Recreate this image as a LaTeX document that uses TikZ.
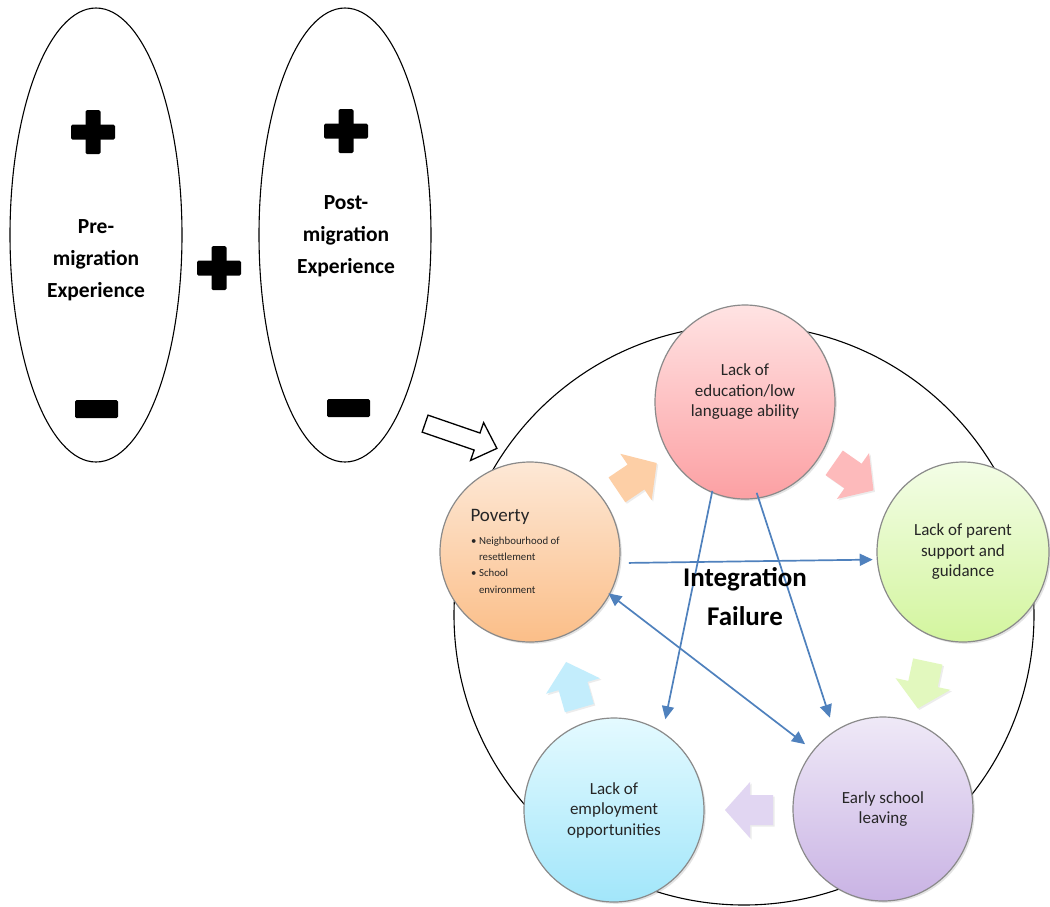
\documentclass[tikz,border=0pt]{standalone}
\usepackage{fontspec}
\setmainfont{Carlito}
\usetikzlibrary{shapes.geometric,arrows.meta,shadows,calc}
\definecolor{lineblue}{HTML}{4F81BD}
\definecolor{ringgray}{HTML}{8A8A8A}
\definecolor{pinkT}{HTML}{FFE3E3}\definecolor{pinkB}{HTML}{FCA0A3}
\definecolor{greenT}{HTML}{F3FDE6}\definecolor{greenB}{HTML}{D3F59E}
\definecolor{orangeT}{HTML}{FDE8D6}\definecolor{orangeB}{HTML}{FBBE88}
\definecolor{cyanT}{HTML}{E4FAFF}\definecolor{cyanB}{HTML}{A2E6FA}
\definecolor{purpleT}{HTML}{EFE9F7}\definecolor{purpleB}{HTML}{C9B3E4}
\definecolor{arrOrange}{HTML}{FDCFA6}
\definecolor{arrPink}{HTML}{FDBABB}
\definecolor{arrGreen}{HTML}{E2F8BE}
\definecolor{arrPurple}{HTML}{E1D6F2}
\definecolor{arrCyan}{HTML}{C3EDFC}
\tikzset{
  bigoval/.style={ellipse, draw=black, line width=1.1pt, inner sep=0pt, minimum width=172pt, minimum height=454pt},
  bigtext/.style={align=center, font=\bfseries\fontsize{21.5}{32}\selectfont},
  bubble/.style={ellipse, draw=ringgray, line width=1.2pt, inner sep=0pt, align=center,
     font=\fontsize{17}{20.5}\selectfont, text=black!85,
     drop shadow={opacity=0.22, shadow xshift=1.8pt, shadow yshift=-1.8pt}},
  bluearrow/.style={draw=lineblue, line width=1.7pt, -{Triangle[length=13pt,width=12pt]}},
  bluedouble/.style={draw=lineblue, line width=1.7pt, {Triangle[length=13pt,width=12pt]}-{Triangle[length=13pt,width=12pt]}},
  cyclearrow/.style={draw=none, drop shadow={opacity=0.15, shadow xshift=1.5pt, shadow yshift=-1.5pt}},
  plussign/.pic={\fill[rounded corners=1.5pt] (-7.5,-22) rectangle (7.5,22);
                 \fill[rounded corners=1.5pt] (-22,-7.5) rectangle (22,7.5);}
}
\newcommand{\cyclepath}{(-23,-15) -- (0,-15) -- (0,-28) -- (25,0) -- (0,28) -- (0,15) -- (-23,15) -- cycle}
\begin{document}
\begin{tikzpicture}[x=1pt,y=-1pt]
\useasboundingbox (0,0) rectangle (1050,906);
\fill[white] (0,0) rectangle (1050,906);

% left part
\node[bigoval] (pre) at (96,235) {};
\node[bigoval] (post) at (345,235) {};
\node[bigtext] (pretext) at (96,260) {Pre-\\migration\\Experience};
\node[bigtext] (posttext) at (346,236) {Post-\\migration\\Experience};
\pic at (93,132) {plussign};
\pic at (219,268) {plussign};
\pic at (346,131) {plussign};
\fill[rounded corners=1.5pt] (75,400) rectangle (118,418);
\fill[rounded corners=1.5pt] (327,399) rectangle (370,417);

% white block arrow
\begin{scope}[shift={(461,436)}, rotate=-19]
  \draw[line width=1.3pt, fill=white, line join=miter]
    (-38,-9) -- (17,-9) -- (17,-20) -- (38,0) -- (17,20) -- (17,9) -- (-38,9) -- cycle;
\end{scope}

% ring
\node[circle, draw=black, line width=1.1pt, minimum size=580pt, inner sep=0pt] (ring) at (744,615) {};

% bubbles
\node[bubble, top color=pinkT, bottom color=pinkB, minimum width=180pt, minimum height=194pt] (pink) at (745,402) {};
\node[align=center, font=\fontsize{17}{20.5}\selectfont, text=black!85] (pinktext) at ($(pink.center)+(0,-10)$) {Lack of\\education/low\\language ability};
\node[bubble, top color=greenT, bottom color=greenB, minimum width=172pt, minimum height=180pt] (green) at (963,552) {Lack of parent\\support and\\guidance};
\node[bubble, top color=purpleT, bottom color=purpleB, minimum width=180pt, minimum height=184pt] (purple) at (883,809) {Early school\\leaving};
\node[bubble, top color=cyanT, bottom color=cyanB, minimum width=180pt, minimum height=184pt] (blue) at (614,810) {Lack of\\employment\\opportunities};
\node[bubble, top color=orangeT, bottom color=orangeB, minimum width=180pt, minimum height=180pt] (orange) at (530,552) {};
\node[anchor=west, font=\fontsize{19}{20}\selectfont, text=black!85] (povtitle) at ($(orange.center)+(-63,-35)$) {Poverty};
\node[anchor=west, font=\fontsize{10.8}{16.3}\selectfont, text=black!85, inner sep=0pt] (povlist) at ($(orange.center)+(-59,13.5)$)
  {\begin{tabular}{@{}l@{\hspace{2.5pt}}l@{}}\textbullet & Neighbourhood of\\ & resettlement\\ \textbullet & School\\ & environment\end{tabular}};

% cycle arrows
\begin{scope}[shift={(636,477)}, rotate=34]
  \fill[arrOrange, cyclearrow] \cyclepath;
\end{scope}
\begin{scope}[shift={(853,476)}, rotate=-35]
  \fill[arrPink, cyclearrow] \cyclepath;
\end{scope}
\begin{scope}[shift={(923,684)}, rotate=-102]
  \fill[arrGreen, cyclearrow] \cyclepath;
\end{scope}
\begin{scope}[shift={(750,810)}, rotate=180]
  \fill[arrPurple, cyclearrow] \cyclepath;
\end{scope}
\begin{scope}[shift={(573,686)}, rotate=106]
  \fill[arrCyan, cyclearrow] \cyclepath;
\end{scope}

% blue connectors
\draw[bluearrow, shorten <=9pt, shorten >=4pt] (orange.-7) -- (green.185);
\draw[bluearrow, shorten <=-2pt, shorten >=13pt] (pink.-110) -- (blue.58);
\draw[bluearrow, shorten <=-6pt, shorten >=14pt] (pink.-82) -- (purple.122);
\draw[bluedouble, shorten <=-2pt, shorten >=10pt] (orange.-28) -- (purple.140);

% centre text
\node[align=center, font=\bfseries\fontsize{27}{39}\selectfont] (fail) at (745,597) {Integration\\Failure};
\end{tikzpicture}
\end{document}
